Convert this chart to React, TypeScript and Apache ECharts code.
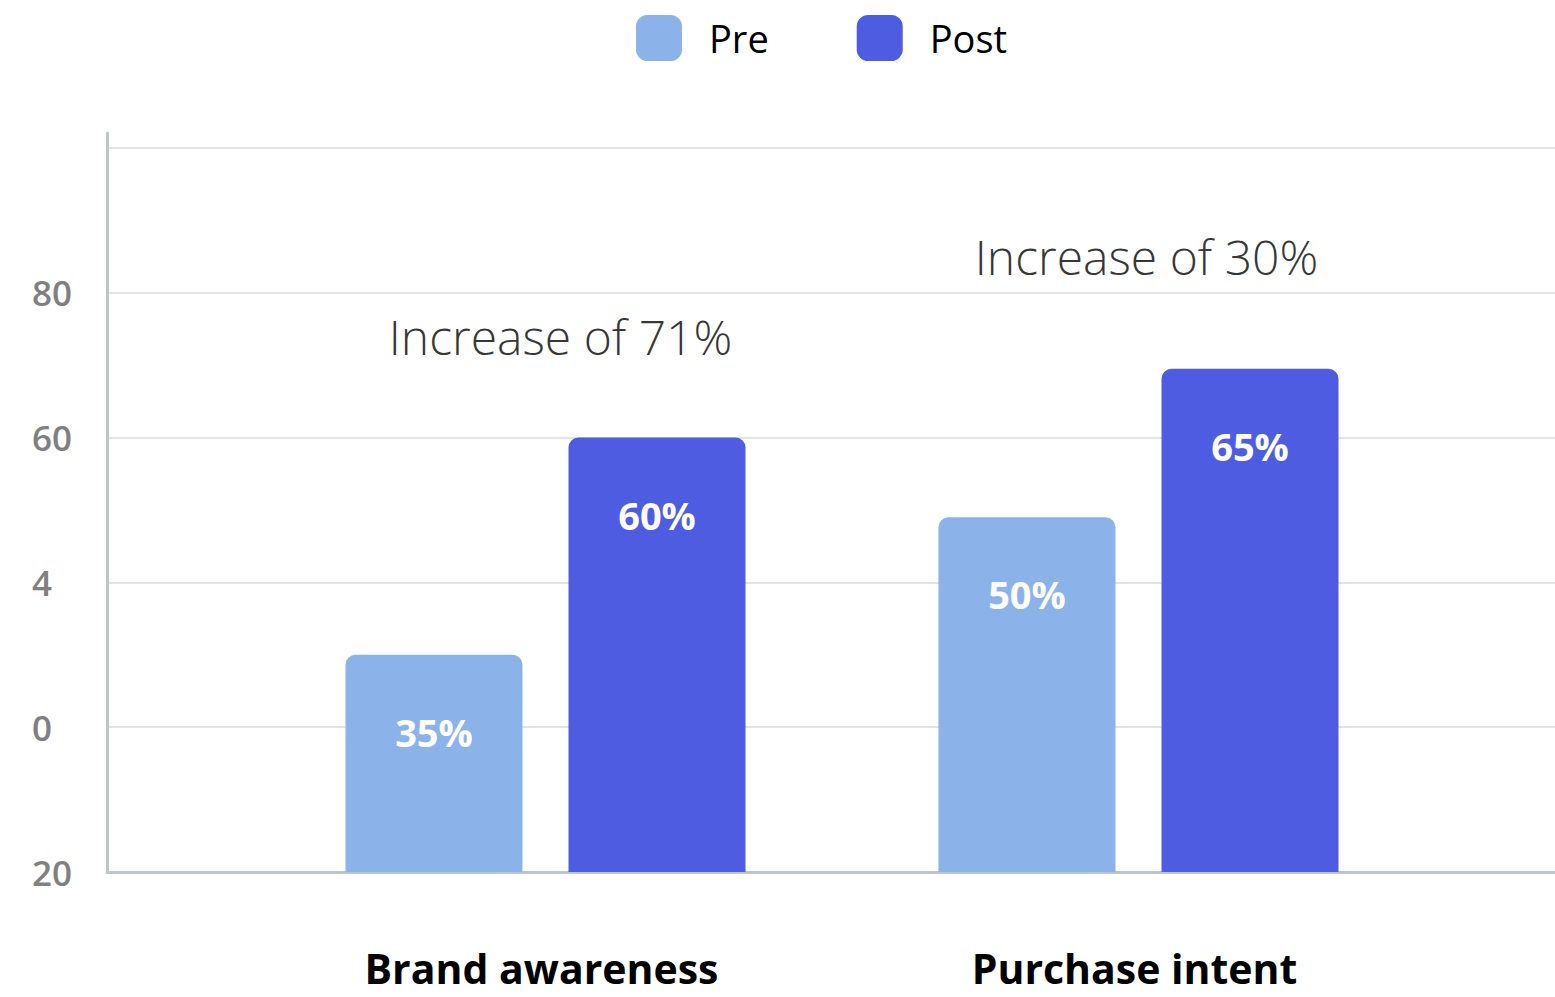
import React, { useEffect, useRef } from "react";
import * as echarts from "echarts";

const categories = ["Brand awareness", "Purchase intent"];
const seriesNames = ["Pre", "Post"];
const preValues = [30, 49];
const postValues = [60, 69.5];
const preLabels = ["35%", "50%"];
const postLabels = ["60%", "65%"];
const yTickValues = [0, 20, 40, 60, 80, 100];
const yTickLabels = ["20", "0", "4", "60", "80", ""];
const annotationTexts = ["Increase of 71%", "Increase of 30%"];
const annotationValues = [74, 85];

const FONT = "'Open Sans', 'Noto Sans', sans-serif";
const PRE_COLOR = "#8CB2EA";
const POST_COLOR = "#4D5CE0";
const AXIS_COLOR = "#BFC5CD";
const GRID_COLOR = "#E0E3E7";

export default function App() {
  const ref = useRef<HTMLDivElement>(null);

  useEffect(() => {
    if (!ref.current) return;
    const chart = echarts.init(ref.current, undefined, { renderer: "svg" });

    const barLabel = (labels: string[]) => ({
      show: true,
      position: ["50%", 77],
      align: "center",
      verticalAlign: "middle",
      formatter: (p: any) => labels[p.dataIndex],
      color: "#FFFFFF",
      fontSize: 38,
      fontWeight: 700,
      fontFamily: FONT,
    });

    const option: any = {
      animation: false,
      backgroundColor: "#FFFFFF",
      textStyle: { fontFamily: FONT },
      legend: {
        data: seriesNames,
        left: 636,
        top: 15,
        padding: 0,
        itemWidth: 46,
        itemHeight: 46,
        itemGap: 88,
        icon: "roundRect",
        textStyle: {
          fontSize: 38,
          color: "#000000",
          fontFamily: FONT,
          padding: [0, 0, 6, 22],
        },
      },
      grid: [
        { left: 107, right: 0, top: 148, bottom: 125, containLabel: false },
        { left: 249, width: 1186, top: 148, bottom: 125, containLabel: false },
        { left: 107, width: 1, top: 133, bottom: 125, containLabel: false },
      ],
      xAxis: [
        {
          gridIndex: 0,
          type: "category",
          data: [""],
          axisLine: { show: true, lineStyle: { color: AXIS_COLOR, width: 3 } },
          axisTick: { show: false },
          axisLabel: { show: false },
          splitLine: { show: false },
        },
        {
          gridIndex: 1,
          type: "category",
          data: categories,
          axisLine: { show: false },
          axisTick: { show: false },
          axisLabel: {
            show: true,
            margin: 76,
            fontSize: 41,
            lineHeight: 40,
            fontWeight: 700,
            color: "#000000",
            fontFamily: FONT,
            padding: [0, 8, 0, 0],
          },
        },
        {
          gridIndex: 2,
          type: "category",
          data: [""],
          show: false,
        },
      ],
      yAxis: [
        {
          gridIndex: 0,
          type: "value",
          min: 0,
          max: 100,
          interval: 20,
          axisLine: { show: false },
          axisTick: { show: false },
          splitLine: { show: true, lineStyle: { color: GRID_COLOR, width: 2 } },
          axisLabel: {
            show: true,
            align: "left",
            margin: 75,
            fontSize: 35,
            fontWeight: 600,
            color: "#808080",
            fontFamily: FONT,
            formatter: (v: number) => {
              const i = yTickValues.indexOf(v);
              return i >= 0 ? yTickLabels[i] : "";
            },
          },
        },
        {
          gridIndex: 1,
          type: "value",
          min: 0,
          max: 100,
          show: false,
        },
        {
          gridIndex: 2,
          type: "value",
          min: 0,
          max: 100,
          axisLine: { show: true, lineStyle: { color: AXIS_COLOR, width: 3 } },
          axisTick: { show: false },
          axisLabel: { show: false },
          splitLine: { show: false },
        },
      ],
      series: [
        {
          name: "Pre",
          type: "bar",
          xAxisIndex: 1,
          yAxisIndex: 1,
          data: preValues,
          barWidth: 177,
          barGap: "26%",
          itemStyle: { color: PRE_COLOR, borderRadius: [10, 10, 0, 0] },
          label: barLabel(preLabels),
        },
        {
          name: "Post",
          type: "bar",
          xAxisIndex: 1,
          yAxisIndex: 1,
          data: postValues,
          barWidth: 177,
          barGap: "26%",
          itemStyle: { color: POST_COLOR, borderRadius: [10, 10, 0, 0] },
          label: barLabel(postLabels),
        },
        {
          name: "annotations",
          type: "scatter",
          xAxisIndex: 1,
          yAxisIndex: 1,
          symbolSize: 1,
          itemStyle: { color: "transparent" },
          silent: true,
          data: annotationValues.map((v, i) => ({
            value: [i, v],
            label: { offset: [i === 0 ? 15 : 8, 0] },
          })),
          label: {
            show: true,
            position: "inside",
            formatter: (p: any) => annotationTexts[p.dataIndex],
            fontSize: 48,
            fontWeight: 300,
            color: "#000000",
            fontFamily: FONT,
          },
        },
      ],
    };

    chart.setOption(option);
    return () => chart.dispose();
  }, []);

  return (
    <div
      ref={ref}
      style={{ position: "absolute", left: 0, top: 0, width: 1555, height: 997 }}
    />
  );
}
